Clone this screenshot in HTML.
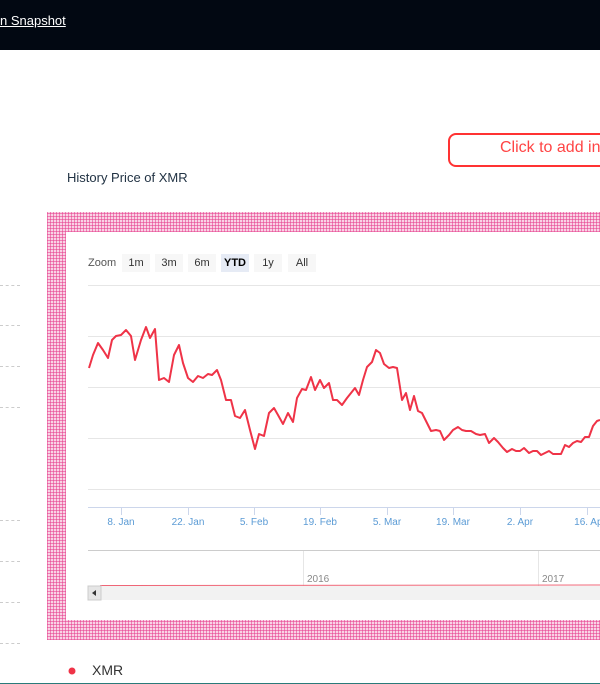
<!DOCTYPE html>
<html><head><meta charset="utf-8"><style>
body{margin:0;width:600px;height:684px;overflow:hidden;background:#fff;font-family:"Liberation Sans",sans-serif;position:relative}
.top{position:absolute;left:0;top:0;width:600px;height:50px;background:#020812}
.top a{position:absolute;left:0;top:13px;color:#fff;font-size:13px;text-decoration:underline}
.dash{position:absolute;left:0;width:20px;border-top:1px dashed #ccc}
.pat{position:absolute;left:47px;top:212px;width:560px;height:428px;background-color:#f9d3e5;
background-image:repeating-linear-gradient(0deg,rgba(230,60,140,.55) 0 1px,transparent 1px 3px),repeating-linear-gradient(90deg,rgba(230,60,140,.55) 0 1px,transparent 1px 3px)}
.inner{position:absolute;left:66px;top:232px;width:540px;height:388px;background:#fff}
.btn{position:absolute;top:254px;height:18px;width:28px;background:#f7f7f7;font-size:11px;color:#333;text-align:center;line-height:18px}
</style></head><body>
<div class="top"><a>n Snapshot</a></div>
<div style="position:absolute;left:448px;top:133px;width:170px;height:30px;border:2px solid #f33;border-radius:8px"></div>
<div style="position:absolute;left:500px;top:139px;color:#f44;font-size:16px;white-space:nowrap">Click to add in</div>
<div style="position:absolute;left:67px;top:170px;color:#234;font-size:13px">History Price of XMR</div>
<div class="dash" style="top:285px"></div><div class="dash" style="top:325px"></div><div class="dash" style="top:366px"></div><div class="dash" style="top:407px"></div>
<div class="dash" style="top:520px"></div><div class="dash" style="top:561px"></div><div class="dash" style="top:602px"></div><div class="dash" style="top:643px"></div>
<div class="pat"></div><div class="inner"></div>
<div style="position:absolute;left:88px;top:257px;font-size:11px;color:#555">Zoom</div>
<div class="btn" style="left:122px">1m</div><div class="btn" style="left:155px">3m</div><div class="btn" style="left:188px">6m</div>
<div class="btn" style="left:221px;background:#e6ebf5;font-weight:bold;color:#000">YTD</div><div class="btn" style="left:254px">1y</div><div class="btn" style="left:288px">All</div>
<svg style="position:absolute;left:0;top:0" width="600" height="684">
<g stroke="#e6e6e6" stroke-width="1"><line x1="88" y1="285.5" x2="600" y2="285.5"/><line x1="88" y1="336.5" x2="600" y2="336.5"/><line x1="88" y1="387.5" x2="600" y2="387.5"/><line x1="88" y1="438.5" x2="600" y2="438.5"/><line x1="88" y1="489.5" x2="600" y2="489.5"/></g>
<line x1="88" y1="507.5" x2="600" y2="507.5" stroke="#ccd6eb"/>
<g stroke="#ccd6eb"><line x1="121.5" y1="507" x2="121.5" y2="515"/><line x1="188.5" y1="507" x2="188.5" y2="515"/><line x1="254.5" y1="507" x2="254.5" y2="515"/><line x1="320.5" y1="507" x2="320.5" y2="515"/><line x1="387.5" y1="507" x2="387.5" y2="515"/><line x1="453.5" y1="507" x2="453.5" y2="515"/><line x1="520.5" y1="507" x2="520.5" y2="515"/><line x1="587.5" y1="507" x2="587.5" y2="515"/></g>
<g fill="#5b9bd5" font-size="10" font-family="Liberation Sans,sans-serif" text-anchor="middle"><text x="121" y="525">8. Jan</text><text x="188" y="525">22. Jan</text><text x="254" y="525">5. Feb</text><text x="320" y="525">19. Feb</text><text x="387" y="525">5. Mar</text><text x="453" y="525">19. Mar</text><text x="520" y="525">2. Apr</text><text x="590" y="525">16. Apr</text></g>
<polyline fill="none" stroke="#ef3347" stroke-width="2" stroke-linejoin="round" points="89,368 93,355 98,343 103,350 108,358 112,340 116,336 121,335 126,330 131,336 135,360 141,340 146,327 150,338 155,329 159,380 164,378 169,382 174,355 179,345 183,363 188,378 193,382 198,376 203,378 208,374 212,375 217,370 221,380 226,400 231,400 235,416 240,418 245,410 250,430 255,449 259,434 264,436 269,413 274,408 278,415 283,424 288,413 293,422 297,398 302,389 306,390 311,377 315,390 320,380 324,388 329,383 333,400 337,400 342,405 347,398 351,393 355,388 359,395 363,380 367,367 372,362 376,350 380,353 384,364 389,368 393,367 397,368 402,400 406,393 410,410 414,396 418,411 422,413 426,421 431,431 436,430 440,431 444,440 449,435 453,430 458,427 462,430 466,431 471,431 476,434 480,435 485,434 489,443 494,438 498,442 503,448 507,452 512,449 516,451 520,451 524,448 529,453 533,451 537,451 541,455 545,453 549,451 553,454 557,454 561,454 565,445 569,447 573,443 577,441 581,442 585,437 589,437 593,426 597,421 600,420"/>
<line x1="88" y1="550.5" x2="600" y2="550.5" stroke="#ccc"/>
<line x1="303.5" y1="551" x2="303.5" y2="586" stroke="#e6e6e6"/><line x1="538.5" y1="551" x2="538.5" y2="586" stroke="#e6e6e6"/>
<g fill="#888" font-size="10" font-family="Liberation Sans,sans-serif"><text x="307" y="582">2016</text><text x="542" y="582">2017</text></g>
<line x1="100" y1="585.5" x2="600" y2="585" stroke="#ef6677" stroke-width="1"/>
<rect x="88" y="586" width="512" height="14" fill="#f2f2f2"/>
<rect x="88" y="586" width="13" height="14" fill="#e6e6e6" stroke="#ccc"/>
<path d="M96,590 L92,593 L96,596Z" fill="#333"/>
<circle cx="72" cy="671" r="3.5" fill="#ef3347"/>
<text x="92" y="675" font-size="14" fill="#333" font-family="Liberation Sans,sans-serif">XMR</text>
<line x1="0" y1="683.5" x2="600" y2="683.5" stroke="#2a7a7a"/>
</svg>
</body></html>
